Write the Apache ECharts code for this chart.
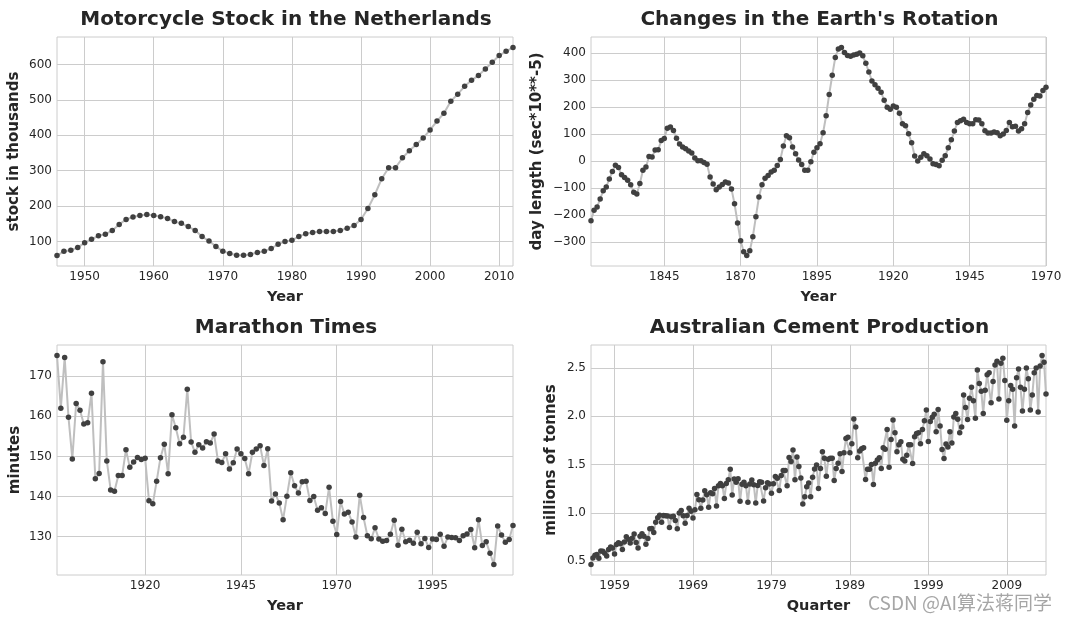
<!DOCTYPE html>
<html><head><meta charset="utf-8">
<script src="https://cdn.jsdelivr.net/npm/echarts@6/dist/echarts.min.js"></script>
<style>html,body{margin:0;padding:0;background:#fff}#c{width:1070px;height:621px}</style>
</head><body><div id="c"></div>
<script>
// ---------- DATA ----------
const motoStartYear = 1946;
const motoStock = [60,72,75,83,96,106,116,120,131,148,162,169,173,176,173,170,165,156,151,142,
  131,114,101,86,72,66,61,61,63,69,72,80,92,100,103,114,122,125,128,128,
  128,131,137,145,162,193,232,277,308,308,336,356,374,392,415,440,462,496,516,538,
  555,569,587,606,625,637,648];
const motoTicksX = [1950,1960,1970,1980,1990,2000,2010];
const motoTicksY = [100,200,300,400,500,600];

const rotStartYear = 1821;
const dayLength = [-220,-181,-169,-139,-109,-95,-65,-38,-14,-23,-50,-60,-70,-87,-114,-121,-82,-33,-21,18,
  16,42,43,77,85,123,127,114,86,64,53,47,38,31,12,2,2,-4,-11,-58,
  -84,-105,-95,-86,-76,-80,-102,-157,-228,-294,-335,-349,-331,-279,-205,-132,-87,-63,-52,-39,
  -33,-15,7,57,95,87,53,28,5,-12,-33,-33,-1,34,50,65,106,169,248,319,
  385,416,422,403,392,389,394,397,401,391,363,331,298,284,271,256,226,200,193,205,
  200,178,139,132,102,69,20,1,15,28,21,9,-9,-12,-16,4,21,50,80,112,
  144,150,156,144,139,139,154,153,139,113,105,105,109,106,95,101,114,144,128,130,
  112,121,139,181,209,230,244,242,262,274];
const rotTicksX = [1845,1870,1895,1920,1945,1970];
const rotTicksY = [-300,-200,-100,0,100,200,300,400];

const maraStartYear = 1897;
const marathonMinutes = [175.17,162.0,174.63,159.73,149.38,163.2,161.48,158.07,158.42,165.75,
  144.4,145.72,173.6,148.87,141.65,141.3,145.23,145.23,151.68,147.27,
  148.62,149.73,149.22,149.52,138.95,138.17,143.78,149.67,153.0,145.67,
  160.37,157.12,153.13,154.8,166.75,153.6,151.02,152.88,152.12,153.67,
  153.33,155.57,148.85,148.47,150.63,146.85,148.42,151.83,150.67,149.45,
  145.65,151.03,151.83,152.65,147.75,151.88,138.85,140.65,138.37,134.23,
  140.08,145.9,142.7,140.9,143.65,143.8,138.97,139.98,136.55,137.18,
  135.75,142.28,133.82,130.5,138.75,135.65,136.05,133.65,129.92,140.32,
  134.77,130.22,129.45,132.18,129.43,128.87,129.0,130.57,134.08,127.85,
  131.83,128.72,129.1,128.32,131.1,128.23,129.55,127.25,129.37,129.25,
  130.57,127.57,129.87,129.78,129.72,129.03,130.18,130.62,131.75,127.23,
  134.22,127.77,128.7,125.87,123.03,132.67,130.37,128.62,129.28,132.75];
const maraTicksX = [1920,1945,1970,1995];
const maraTicksY = [130,140,150,160,170];

const cementStartYear = 1956; // quarterly, starting Q1
const cementTonnes = [0.465,0.532,0.561,0.570, 0.529,0.604,0.603,0.582, 0.554,0.620,0.646,0.637,
  0.573,0.673,0.690,0.681, 0.621,0.698,0.753,0.728, 0.688,0.737,0.782,0.692,
  0.637,0.757,0.783,0.757, 0.674,0.734,0.835,0.838, 0.797,0.904,0.949,0.975,
  0.902,0.974,0.969,0.967, 0.849,0.961,0.966,0.922, 0.836,0.998,1.025,0.971,
  0.892,0.973,1.047,1.017, 0.948,1.032,1.190,1.136, 1.049,1.134,1.229,1.188,
  1.058,1.209,1.199,1.253, 1.070,1.282,1.303,1.281, 1.148,1.305,1.342,1.452,
  1.184,1.352,1.316,1.353, 1.121,1.297,1.318,1.281, 1.109,1.299,1.341,1.290,
  1.101,1.284,1.321,1.317, 1.122,1.261,1.312,1.298, 1.202,1.302,1.377,1.359,
  1.232,1.386,1.440,1.439, 1.282,1.573,1.533,1.651, 1.343,1.578,1.480,1.362,
  1.093,1.167,1.27,1.31, 1.167,1.37,1.455,1.495, 1.253,1.459,1.634,1.565,
  1.38,1.555,1.565,1.565, 1.336,1.459,1.514,1.613, 1.428,1.623,1.77,1.784,
  1.623,1.716,1.973,1.89, 1.572,1.64,1.664,1.675, 1.346,1.452,1.452,1.50,
  1.295,1.514,1.548,1.572, 1.459,1.675,1.658,1.863, 1.473,1.76,1.962,1.829,
  1.634,1.705,1.736,1.555, 1.538,1.596,1.705,1.705, 1.51,1.788,1.822,1.829,
  1.716,1.863,1.955,2.065, 1.74,1.945,1.99,2.02, 1.84,2.07,1.9,1.655,
  1.562,1.714,1.683,1.84, 1.724,1.993,2.03,1.97, 1.83,1.89,2.22,2.09,
  1.966,2.186,2.3,2.16, 1.98,2.48,2.34,2.26, 2.03,2.27,2.43,2.45,
  2.14,2.36,2.53,2.57, 2.18,2.55,2.6,2.37, 1.96,2.16,2.32,2.28,
  1.9,2.4,2.49,2.3, 2.055,2.28,2.5,2.39, 2.066,2.22,2.45,2.5,
  2.045,2.52,2.63,2.56, 2.23];
const cementTicksX = [1959,1969,1979,1989,1999,2009];
const cementTicksY = [0.5,1.0,1.5,2.0,2.5];

const titles = ['Motorcycle Stock in the Netherlands', "Changes in the Earth's Rotation", 'Marathon Times', 'Australian Cement Production'];
const xNames = ['Year','Year','Year','Quarter'];
const yNames = ['stock in thousands','day length (sec*10**-5)','minutes','millions of tonnes'];

// ---------- BUILD ----------
const toPairs = (start, step, vals) => vals.map((v, i) => [start + i * step, v]);
const series4 = [
  toPairs(motoStartYear, 1, motoStock),
  toPairs(rotStartYear, 1, dayLength),
  toPairs(maraStartYear, 1, marathonMinutes),
  toPairs(cementStartYear, 0.25, cementTonnes)
];
const ticksX = [motoTicksX, rotTicksX, maraTicksX, cementTicksX];
const ticksY = [motoTicksY, rotTicksY, maraTicksY, cementTicksY];

const grids = [
  {left: 57, top: 37, width: 456, height: 229},
  {left: 591, top: 37, width: 455, height: 229},
  {left: 57, top: 345, width: 456, height: 230},
  {left: 591, top: 345, width: 455, height: 230}
];
const nameGapsY = [35, 46, 34, 32];

const txt = '#262626';
const gridColor = '#cccccc';
const fmtY = [
  v => String(v),
  v => (v < 0 ? '\u2212' + Math.abs(v) : String(v)),
  v => String(v),
  v => v.toFixed(1)
];

const option = {
  animation: false,
  backgroundColor: '#ffffff',
  textStyle: {fontFamily: 'DejaVu Sans'},
  title: titles.map((t, i) => ({
    text: t,
    left: grids[i].left + grids[i].width / 2 - 4,
    top: grids[i].top - 32,
    textAlign: 'center',
    textStyle: {fontFamily: 'DejaVu Sans', fontWeight: 'bold', fontSize: 20, color: txt}
  })),
  grid: grids.map(g => Object.assign({show: true, borderColor: gridColor, borderWidth: 1, backgroundColor: '#fff', containLabel: false}, g)),
  xAxis: series4.map((d, i) => ({
    type: 'value', gridIndex: i,
    min: d[0][0], max: d[d.length - 1][0],
    name: xNames[i], nameLocation: 'middle', nameGap: 24,
    nameTextStyle: {fontFamily: 'DejaVu Sans', fontWeight: 'bold', fontSize: 14.5, color: txt},
    axisLine: {show: false}, axisTick: {show: false, customValues: ticksX[i]},
    axisLabel: {customValues: ticksX[i], color: txt, fontSize: 12, margin: 5, formatter: v => String(v)},
    splitLine: {show: true, lineStyle: {color: gridColor, width: 1}}
  })),
  yAxis: series4.map((d, i) => {
    const vals = d.map(p => p[1]);
    const lo = Math.min(...vals), hi = Math.max(...vals), r = hi - lo;
    return {
      type: 'value', gridIndex: i,
      min: lo - 0.05 * r, max: hi + 0.05 * r,
      name: yNames[i], nameLocation: 'middle', nameGap: nameGapsY[i],
      nameTextStyle: {fontFamily: 'DejaVu Sans', fontWeight: 'bold', fontSize: 15, color: txt},
      axisLine: {show: false}, axisTick: {show: false, customValues: ticksY[i]},
      axisLabel: {customValues: ticksY[i], color: txt, fontSize: 12, margin: 5, formatter: fmtY[i]},
      splitLine: {show: true, lineStyle: {color: gridColor, width: 1}}
    };
  }),
  series: series4.map((d, i) => ({
    type: 'line', xAxisIndex: i, yAxisIndex: i, data: d,
    symbol: 'circle', symbolSize: 5.5, showSymbol: true,
    lineStyle: {color: '#bfbfbf', width: 2},
    itemStyle: {color: '#404040'},
    emphasis: {disabled: true},
    clip: true
  })),
  graphic: [{
    type: 'text', left: 868, top: 593,
    style: {text: 'CSDN @AI算法蒋同学', fill: '#a6a6a6', fontSize: 19, fontFamily: 'Noto Sans CJK SC'}
  }]
};
const chart = echarts.init(document.getElementById('c'), null, {renderer: 'canvas'});
chart.setOption(option);
</script>
</body></html>
